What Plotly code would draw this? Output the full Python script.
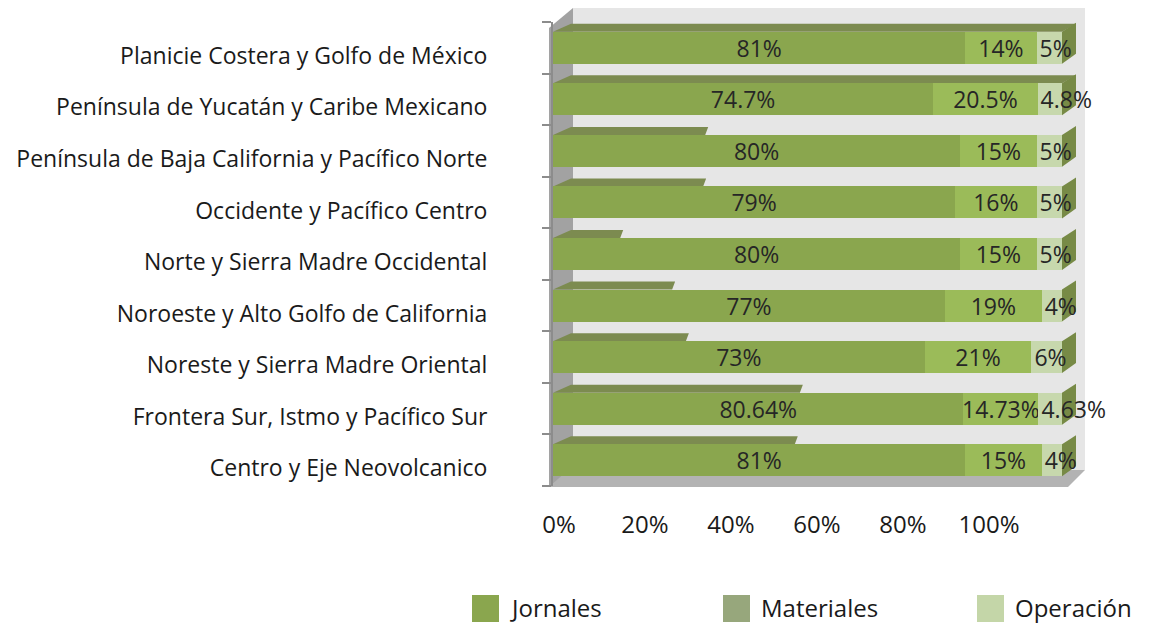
import plotly.graph_objects as go

# ---------------- data ----------------
categories = [
    "Centro y Eje Neovolcanico",
    "Frontera Sur, Istmo y Pacífico Sur",
    "Noreste y Sierra Madre Oriental",
    "Noroeste y Alto Golfo de California",
    "Norte y Sierra Madre Occidental",
    "Occidente y Pacífico Centro",
    "Península de Baja California y Pacífico Norte",
    "Península de Yucatán y Caribe Mexicano",
    "Planicie Costera y Golfo de México",
]
jornales = [81, 80.64, 73, 77, 80, 79, 80, 74.7, 81]
materiales = [15, 14.73, 21, 19, 15, 16, 15, 20.5, 14]
operacion = [4, 4.63, 6, 4, 5, 5, 5, 4.8, 5]
series_names = ["Jornales", "Materiales", "Operación"]
x_ticks = [0, 20, 40, 60, 80, 100]
x_tick_labels = ["0%", "20%", "40%", "60%", "80%", "100%"]

# ---------------- style ----------------
FONT = "Open Sans"
bar_colors = ["#8aa64e", "#9bbb59", "#c7d8ad"]
legend_colors = ["#8aa64e", "#97a77c", "#c4d6a8"]
text_anchor = ["middle", "middle", "start"]
TOP_FACE = "#7c8b50"
SIDE_FACE = "#778a46"
# visible length (in % of bar) of the top bevel, per category (3D rendering artefact)
top_face_len = [47.5, 48.5, 26.1, 23.4, 13.2, 29.5, 29.9, 100, 100]

W, H = 1153, 624
OFF = 8                      # page body margin of the browser
SL, SR_EDGE, ST, SB_EDGE = 553, 1062, 22, 486   # plot area in screen pixels
L = SL - OFF
T = ST - OFF
PW = SR_EDGE - SL
PH = SB_EDGE - ST
R = W - L - PW
B = H - T - PH
BAR_W = 0.62
n = len(categories)


def px(xs):
    return (xs - SL) / PW


def py(ys):
    return (SB_EDGE - ys) / PH


def xdata_pix(v):
    return SL + v / 100 * PW


def ydata_pix(i):
    return SB_EDGE - (i + 0.5) / n * PH


fig = go.Figure()
for name, vals, col, anc in zip(series_names, [jornales, materiales, operacion], bar_colors, text_anchor):
    fig.add_trace(go.Bar(
        y=categories, x=vals, name=name, orientation="h",
        marker=dict(color=col, line=dict(width=0)),
        width=BAR_W,
        text=[f"{v:g}%" for v in vals],
        textposition="inside", insidetextanchor=anc,
        constraintext="none", textangle=0, cliponaxis=False,
        textfont=dict(family=FONT, size=23, color="#262626"),
        showlegend=False, hoverinfo="x+y",
    ))

# invisible trace carrying the tick-label axis
fig.add_trace(go.Scatter(x=[None], y=[None], xaxis="x2", yaxis="y",
                         showlegend=False, hoverinfo="skip", mode="markers"))

shapes = []
# back wall, side wall, floor
shapes.append(dict(type="rect", xref="paper", yref="paper", layer="below",
                   x0=px(573), x1=px(1085), y0=py(470), y1=py(8),
                   fillcolor="#e6e6e6", line=dict(width=0)))
shapes.append(dict(type="path", xref="paper", yref="paper", layer="below",
                   path=f"M{px(549)},{py(28)} L{px(573)},{py(8)} L{px(573)},{py(470)} L{px(549)},{py(487)} Z",
                   fillcolor="#a2a2a2", line=dict(width=0)))
shapes.append(dict(type="path", xref="paper", yref="paper", layer="below",
                   path=f"M{px(549)},{py(487)} L{px(568)},{py(470)} L{px(1085)},{py(470)} L{px(1068)},{py(487)} Z",
                   fillcolor="#b3b3b3", line=dict(width=0)))

# 3D bevels of the bars
for i in range(n):
    total = jornales[i] + materiales[i] + operacion[i]
    yc = ydata_pix(i)
    half = BAR_W / 2 * PH / n
    yt, yb = yc - half, yc + half
    x0 = xdata_pix(0)
    x1 = xdata_pix(total)
    xt = xdata_pix(top_face_len[i])
    full = top_face_len[i] >= 100
    dxr = 14 if full else 3
    shapes.append(dict(type="path", xref="paper", yref="paper", layer="below",
                       path=f"M{px(x0)},{py(yt)} L{px(x0 + 18)},{py(yt - 8)} L{px(xt + dxr)},{py(yt - 8)} L{px(xt)},{py(yt)} Z",
                       fillcolor=TOP_FACE, line=dict(width=0)))
    shapes.append(dict(type="path", xref="paper", yref="paper", layer="below",
                       path=f"M{px(x1)},{py(yt)} L{px(x1 + 14)},{py(yt - 9)} L{px(x1 + 14)},{py(yb - 10)} L{px(x1)},{py(yb)} Z",
                       fillcolor=SIDE_FACE, line=dict(width=0)))

# custom legend
annotations = []
legend_x = [472, 723, 977]
for name, col, lx in zip(series_names, legend_colors, legend_x):
    shapes.append(dict(type="rect", xref="paper", yref="paper",
                       x0=px(lx), x1=px(lx + 27), y0=py(622), y1=py(595),
                       fillcolor=col, line=dict(width=0)))
    annotations.append(dict(xref="paper", yref="paper", x=px(lx + 37), y=py(607),
                            text=name, showarrow=False, xanchor="left", yanchor="middle",
                            borderpad=0,
                            font=dict(family=FONT, size=24, color="#1a1a1a")))

# tick axis calibration (label 0% centred ~559px, 100% ~989px on screen)
slope = (989 - 559) / 100
a = (SL - 559) / slope
b = a + PW / slope

fig.update_layout(
    width=W, height=H, autosize=False,
    margin=dict(l=L, r=R, t=T, b=B, pad=0, autoexpand=False),
    barmode="stack", bargap=0.38,
    paper_bgcolor="white", plot_bgcolor="rgba(0,0,0,0)",
    showlegend=False,
    shapes=shapes, annotations=annotations,
    font=dict(family=FONT, color="#1a1a1a"),
    xaxis=dict(range=[0, 100], visible=False, fixedrange=True, automargin=False),
    xaxis2=dict(overlaying="x", anchor="y", side="bottom", range=[a, b],
                tickvals=x_ticks, ticktext=x_tick_labels, showgrid=False,
                zeroline=False, showline=False, ticks="", automargin=False,
                ticklabelstandoff=22,
                tickfont=dict(family=FONT, size=24, color="#1a1a1a")),
    yaxis=dict(type="category", categoryorder="array", categoryarray=categories,
               range=[-0.5, n - 0.5], showgrid=False, zeroline=False, automargin=False,
               showline=True, linecolor="#8c8c8c", linewidth=2,
               ticks="outside", ticklen=9, tickcolor="#8c8c8c", tickwidth=2,
               tickson="boundaries", ticklabelstandoff=59, ticklabelshift=8,
               tickfont=dict(family=FONT, size=23, color="#1a1a1a")),
)

fig.write_html("out.html")
